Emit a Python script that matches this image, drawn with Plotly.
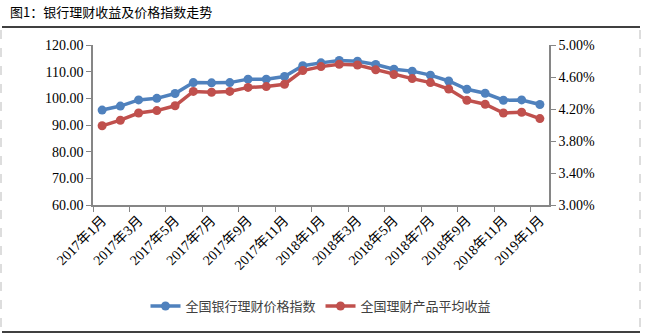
import plotly.graph_objects as go

months = [f"{y}年{m}月" for y, m in
          [(2017, m) for m in range(1, 13)] + [(2018, m) for m in range(1, 13)] + [(2019, 1)]]
price_index = [95.6, 97.1, 99.4, 100.0, 101.8, 105.9, 105.8, 105.9, 107.2, 107.2, 108.2, 112.2,
               113.3, 114.2, 113.9, 112.7, 110.9, 110.2, 108.7, 106.5, 103.4, 101.9, 99.3, 99.4, 97.7]
avg_yield = [3.99, 4.06, 4.15, 4.18, 4.24, 4.42, 4.41, 4.42, 4.47, 4.48, 4.51, 4.68,
             4.73, 4.76, 4.75, 4.69, 4.63, 4.58, 4.53, 4.45, 4.31, 4.26, 4.15, 4.16, 4.08]
right_ticks = [3.0, 3.4, 3.8, 4.2, 4.6, 5.0]
name_index = "全国银行理财价格指数"
name_yield = "全国理财产品平均收益"
title = "图1：银行理财收益及价格指数走势"

W, H = 645, 333
L, R, T, B = 93, 96, 45, 128
pw, ph = W - L - R, H - T - B

def px(x):
    return (x - L) / pw

def py(y):
    return (H - B - y) / ph

BLUE = "#4F81BD"
RED = "#C0504D"
AX = "#868686"
FONT = "'Liberation Serif', 'Times New Roman', 'Noto Sans CJK SC', serif"

fig = go.Figure()
fig.add_trace(go.Scatter(x=months, y=price_index, name=name_index, mode="lines+markers",
                         line=dict(color=BLUE, width=3.5), marker=dict(color=BLUE, size=9)))
fig.add_trace(go.Scatter(x=months, y=avg_yield, name=name_yield, mode="lines+markers", yaxis="y2",
                         line=dict(color=RED, width=3.5), marker=dict(color=RED, size=9)))

fig.update_layout(
    width=W, height=H, margin=dict(l=L, r=R, t=T, b=B),
    paper_bgcolor="white", plot_bgcolor="white",
    font=dict(family=FONT, size=14, color="#000000"),
    showlegend=True,
    legend=dict(orientation="h", x=0.5, xanchor="center", y=py(306), yanchor="middle",
                font=dict(family="Noto Sans CJK SC", size=13, color="#404040"),
                itemwidth=30, bgcolor="rgba(0,0,0,0)"),
    xaxis=dict(type="category", showline=True, linecolor=AX, linewidth=1.5,
               ticks="outside", ticklen=5, tickcolor=AX, tickson="boundaries",
               dtick=2, tickangle=-45, showgrid=False, zeroline=False,
               tickfont=dict(family=FONT, size=14), range=[-0.5, 24.5]),
    yaxis=dict(range=[60, 120], dtick=10, tickformat=".2f", showline=True, linecolor=AX,
               linewidth=1.5, ticks="outside", ticklen=5, tickcolor=AX, showgrid=False,
               zeroline=False, tickfont=dict(family=FONT, size=14)),
    yaxis2=dict(range=[3, 5.0001], tickmode="array", tickvals=right_ticks,
                ticktext=[f"{v:.2f}%" for v in right_ticks], overlaying="y",
                side="right", showline=True, linecolor=AX, linewidth=1.5, ticks="outside",
                ticklen=5, tickcolor=AX, showgrid=False, zeroline=False,
                tickfont=dict(family=FONT, size=14)),
    annotations=[dict(text=title, xref="paper", yref="paper", x=px(8), y=py(12),
                      xanchor="left", yanchor="middle", showarrow=False,
                      font=dict(family="Noto Sans CJK SC", size=13, color="#000000"))],
    shapes=[
        dict(type="line", xref="paper", yref="paper", x0=px(2), x1=px(640), y0=py(27), y1=py(27),
             line=dict(color="black", width=1.5)),
        dict(type="line", xref="paper", yref="paper", x0=px(2), x1=px(640), y0=py(332), y1=py(332),
             line=dict(color="black", width=1.5)),
        dict(type="line", xref="paper", yref="paper", x0=px(1), x1=px(1), y0=py(30), y1=py(331),
             line=dict(color="#BBBBBB", width=1, dash="dash")),
        dict(type="line", xref="paper", yref="paper", x0=px(640), x1=px(640), y0=py(30), y1=py(331),
             line=dict(color="#BBBBBB", width=1, dash="dash")),
    ],
)

fig.write_html("out.html")
